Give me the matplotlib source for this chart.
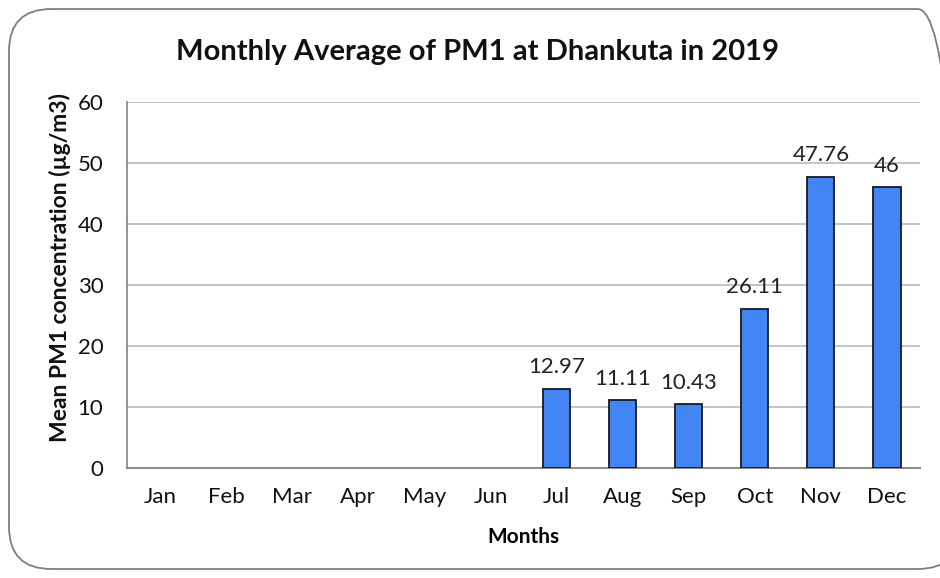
import matplotlib
matplotlib.use("Agg")
import matplotlib.pyplot as plt
from matplotlib.patches import FancyBboxPatch

months = ["Jan", "Feb", "Mar", "Apr", "May", "Jun", "Jul", "Aug", "Sep", "Oct", "Nov", "Dec"]
values = [0, 0, 0, 0, 0, 0, 12.97, 11.11, 10.43, 26.11, 47.76, 46]
labels = ["", "", "", "", "", "", "12.97", "11.11", "10.43", "26.11", "47.76", "46"]
yticks = [0, 10, 20, 30, 40, 50, 60]

plt.rcParams['font.family'] = ['Lato', 'DejaVu Sans']

W, H = 940, 578
fig = plt.figure(figsize=(W / 100, H / 100), dpi=100)
ax = fig.add_axes([127 / W, 1 - 468 / H, (920 - 127) / W, (468 - 102) / H])

# rounded border
border = FancyBboxPatch((9 / W, 9 / H), (960 - 9) / W, (569 - 9) / H,
                        boxstyle="round,pad=0,rounding_size=0.045",
                        transform=fig.transFigure, fill=False,
                        edgecolor="#7f7f7f", linewidth=1.3, clip_on=False,
                        mutation_aspect=W / H)
fig.patches.append(border)

x = list(range(len(months)))
edgecols = ["#1a1a1a" if v > 0 else "none" for v in values]
ax.bar(x, values, width=0.41, color="#4285F4", edgecolor=edgecols, linewidth=1.3, zorder=3)
for xi, v, lab in zip(x, values, labels):
    if lab:
        ax.text(xi, v + 1.9, lab, ha="center", va="bottom", fontsize=16, color="#222222")

ax.set_xlim(-0.5, 11.5)
ax.set_ylim(0, 60)
ax.set_yticks(yticks)
ax.set_xticks(x)
ax.set_xticklabels(months)
ax.yaxis.grid(True, color="#bfbfbf", linewidth=1.3, zorder=0)
ax.set_axisbelow(True)
for s in ["top", "right"]:
    ax.spines[s].set_visible(False)
ax.spines["left"].set_color("#8c8c8c")
ax.spines["left"].set_linewidth(1.3)
ax.spines["bottom"].set_color("#8c8c8c")
ax.spines["bottom"].set_linewidth(1.5)
ax.tick_params(axis="both", length=0, labelsize=16, colors="#111111")
ax.tick_params(axis="x", pad=14)
ax.tick_params(axis="y", pad=17)

ax.set_xlabel("Months", fontsize=15, fontweight="bold", labelpad=14)
fig.text(60 / W, 1 - 268 / H, "Mean PM1 concentration (µg/m3)", rotation=90,
         ha="center", va="center", fontsize=16.5, fontweight="bold", color="#111111")
fig.text(478 / W, 1 - 52 / H, "Monthly Average of PM1 at Dhankuta in 2019",
         ha="center", va="center", fontsize=21, fontweight="bold", color="#111111")

fig.savefig("out.png", dpi=100, facecolor="white")
